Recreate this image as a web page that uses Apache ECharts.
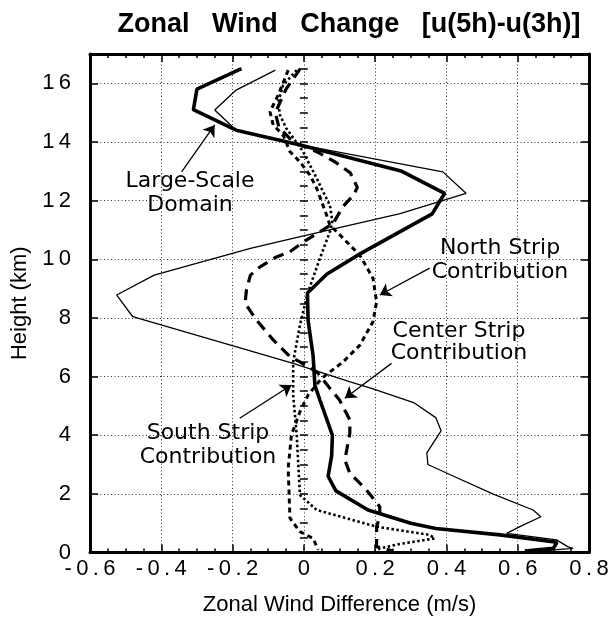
<!DOCTYPE html>
<html><head><meta charset="utf-8">
<script src="https://cdn.jsdelivr.net/npm/echarts@6/dist/echarts.min.js"></script>
<style>html,body{margin:0;padding:0;background:#fff}#c{width:608px;height:617px}</style>
</head><body><div id="c"></div>
<script>
// ---- data (x = zonal wind difference m/s, y = height km) ----
const largeH = [16.5, 15.8, 15.1, 14.4, 13.9, 13.0, 12.25, 11.55, 10.2, 9.5, 8.85, 7.9, 6.7, 5.7, 5.2, 4.0, 3.3, 2.6, 2.1, 1.45, 1.0, 0.82, 0.6, 0.35, 0.14, 0.05];
const largeU = [-0.175, -0.30, -0.31, -0.19, -0.01, 0.275, 0.395, 0.36, 0.16, 0.065, 0.01, 0.012, 0.026, 0.031, 0.045, 0.08, 0.078, 0.068, 0.09, 0.18, 0.30, 0.37, 0.55, 0.71, 0.70, 0.62];

const thinH = [16.45, 15.77, 15.09, 14.4, 13.9, 12.98, 12.25, 11.56, 10.77, 10.37, 9.46, 8.78, 8.04, 6.45, 5.82, 5.6, 5.1, 4.6, 4.15, 3.4, 3.0, 2.6, 2.0, 1.45, 1.22, 0.88, 0.65, 0.43, 0.2, 0.14, 0.05];
const thinU = [-0.08, -0.19, -0.25, -0.19, -0.01, 0.39, 0.455, 0.27, -0.01, -0.15, -0.42, -0.525, -0.48, -0.03, 0.13, 0.19, 0.31, 0.37, 0.385, 0.345, 0.348, 0.42, 0.53, 0.643, 0.665, 0.606, 0.569, 0.709, 0.74, 0.755, 0.66];

const centerH = [16.5, 15.8, 15.0, 14.5, 14.0, 13.67, 13.3, 12.95, 12.45, 12.2, 11.8, 11.22, 10.9, 10.6, 10.25, 10.08, 9.74, 9.46, 8.95, 8.5, 7.93, 7.25, 6.68, 6.5, 6.16, 5.6, 5.2, 4.52, 4.07, 3.15, 2.71, 2.13, 1.56, 1.22, 0.88, 0.2, 0.05];
const centerU = [-0.01, -0.05, -0.08, -0.07, -0.03, 0.036, 0.09, 0.13, 0.15, 0.14, 0.11, 0.082, 0.04, 0.0, -0.04, -0.077, -0.123, -0.15, -0.161, -0.165, -0.133, -0.086, -0.039, -0.011, 0.036, 0.073, 0.10, 0.129, 0.129, 0.115, 0.129, 0.176, 0.213, 0.213, 0.204, 0.204, 0.25];

const northH = [16.45, 15.6, 15.03, 14.58, 14.23, 13.67, 13.32, 12.87, 12.42, 11.96, 11.5, 11.17, 10.83, 10.14, 9.35, 8.55, 7.87, 7.07, 6.5, 5.94, 5.37, 4.8, 4.0, 2.87, 1.17, 0.71, 0.48, 0.09];
const northU = [-0.044, -0.072, -0.095, -0.086, -0.058, -0.039, -0.011, 0.017, 0.036, 0.05, 0.064, 0.073, 0.101, 0.157, 0.194, 0.204, 0.194, 0.157, 0.11, 0.05, 0.012, -0.011, -0.035, -0.044, -0.039, -0.011, 0.026, 0.04];

const southH = [16.45, 15.94, 15.37, 14.92, 14.46, 14.06, 13.67, 13.21, 12.76, 12.3, 11.85, 11.3, 11.0, 10.03, 8.89, 7.76, 6.5, 5.37, 4.0, 1.96, 1.45, 0.88, 0.6, 0.48, 0.29, 0.14, 0.05];
const southU = [-0.02, -0.058, -0.072, -0.067, -0.049, -0.025, -0.002, 0.017, 0.036, 0.054, 0.073, 0.08, 0.075, 0.045, 0.012, -0.011, -0.03, -0.03, -0.02, -0.011, 0.036, 0.204, 0.353, 0.367, 0.269, 0.213, 0.20];

// annotation arrows: [fromU, fromH, toU, toH]
const arrowLarge  = [-0.343, 12.98, -0.25, 14.58];
const arrowNorth  = [0.353, 9.70, 0.213, 8.78];
const arrowCenter = [0.246, 6.45, 0.115, 5.26];
const arrowSouth  = [-0.18, 4.58, -0.0345, 5.71];

const titleText = 'Zonal   Wind   Change   [u(5h)-u(3h)]';
const xName = 'Zonal Wind Difference (m/s)';
const yName = 'Height (km)';

function pairs(u, h) { return u.map((v, i) => [v, h[i]]); }
function spaced(v) { return String(v).split('').join('\u2009'); }
function arrowLine(a) { return [{ coord: [a[0], a[1]] }, { coord: [a[2], a[3]] }]; }

const FONT = 'Liberation Sans, Arial, Helvetica, sans-serif';
const ANN = 'DejaVu Sans, Verdana, sans-serif';
const gridStyle = { show: true, lineStyle: { color: '#333', width: 1, type: [1, 2.5] } };

const chart = echarts.init(document.getElementById('c'), null, { renderer: 'canvas' });
chart.setOption({
  backgroundColor: '#fff',
  animation: false,
  grid: { left: 90, right: 19, top: 54, bottom: 64.5, containLabel: false, outerBoundsMode: 'none' },
  xAxis: [
    { type: 'value', position: 'bottom', min: -0.6, max: 0.8, interval: 0.2,
      axisLine: { show: true, onZero: false, lineStyle: { color: '#000', width: 3 } },
      axisTick: { show: true, inside: true, length: 8, lineStyle: { color: '#000', width: 1.5 } },
      minorTick: { show: true, splitNumber: 4, length: 4, lineStyle: { color: '#000', width: 1.5 } },
      axisLabel: { show: true, margin: 5, color: '#000', fontSize: 22, fontFamily: FONT, formatter: v => spaced(v) },
      splitLine: gridStyle,
      name: xName, nameLocation: 'middle', nameGap: 41,
      nameTextStyle: { color: '#000', fontSize: 22, fontFamily: FONT } },
    { type: 'value', position: 'top', min: -0.6, max: 0.8, interval: 0.2,
      axisLine: { show: true, onZero: false, lineStyle: { color: '#000', width: 3 } },
      axisTick: { show: true, inside: true, length: 8, lineStyle: { color: '#000', width: 1.5 } },
      minorTick: { show: true, splitNumber: 4, length: 4, lineStyle: { color: '#000', width: 1.5 } },
      axisLabel: { show: false }, splitLine: { show: false } }
  ],
  yAxis: [
    { type: 'value', position: 'left', min: 0, max: 17, interval: 2,
      axisLine: { show: true, onZero: false, lineStyle: { color: '#000', width: 3 } },
      axisTick: { show: true, inside: true, length: 8, lineStyle: { color: '#000', width: 1.5 } },
      axisLabel: { show: true, margin: 19, color: '#000', fontSize: 22, fontFamily: FONT, showMaxLabel: false,
        formatter: v => (v > 16 ? '' : spaced(v)) },
      splitLine: gridStyle,
      name: yName, nameLocation: 'middle', nameGap: 56,
      nameTextStyle: { color: '#000', fontSize: 22, fontFamily: FONT } },
    { type: 'value', position: 'left', min: 0, max: 17, interval: 0.5,
      axisLine: { show: false }, axisLabel: { show: false }, splitLine: { show: false },
      axisTick: { show: true, inside: true, length: 4, lineStyle: { color: '#000', width: 1.5 } } },
    { type: 'value', position: 'right', min: 0, max: 17, interval: 2,
      axisLine: { show: true, onZero: false, lineStyle: { color: '#000', width: 3 } },
      axisTick: { show: true, inside: true, length: 8, lineStyle: { color: '#000', width: 1.5 } },
      axisLabel: { show: false }, splitLine: { show: false } },
    { type: 'value', position: 'right', min: 0, max: 17, interval: 0.5,
      axisLine: { show: false }, axisLabel: { show: false }, splitLine: { show: false },
      axisTick: { show: true, inside: true, length: 4, lineStyle: { color: '#000', width: 1.5 } } }
  ],
  series: [
    { name: 'thin', type: 'line', data: pairs(thinU, thinH), showSymbol: false, symbol: 'none',
      lineStyle: { color: '#000', width: 1.3 },
      markLine: { silent: true, symbol: ['none', 'arrow'], symbolSize: 11,
        label: { show: false },
        lineStyle: { color: '#000', width: 1.3, type: 'solid' },
        data: [arrowLine(arrowLarge), arrowLine(arrowNorth), arrowLine(arrowCenter), arrowLine(arrowSouth)] } },
    { name: 'South Strip Contribution', type: 'line', data: pairs(southU, southH), showSymbol: false, symbol: 'none',
      lineStyle: { color: '#000', width: 2.6, type: [2.5, 2.5] } },
    { name: 'North Strip Contribution', type: 'line', data: pairs(northU, northH), showSymbol: false, symbol: 'none',
      lineStyle: { color: '#000', width: 3, type: [5, 4] } },
    { name: 'Center Strip Contribution', type: 'line', data: pairs(centerU, centerH), showSymbol: false, symbol: 'none',
      lineStyle: { color: '#000', width: 3.2, type: [11, 7] } },
    { name: 'Large-Scale Domain', type: 'line', data: pairs(largeU, largeH), showSymbol: false, symbol: 'none',
      lineStyle: { color: '#000', width: 3.6 } }
  ],
  graphic: [
    { type: 'text', style: { x: 349, y: 25, text: titleText, align: 'center', verticalAlign: 'middle',
        font: 'bold 27px ' + FONT, fill: '#000' } },
    { type: 'text', style: { x: 190, y: 193, text: 'Large-Scale\nDomain', align: 'center', verticalAlign: 'middle',
        font: '22px ' + ANN, lineHeight: 24, fill: '#000' } },
    { type: 'text', style: { x: 500, y: 260, text: 'North Strip\nContribution', align: 'center', verticalAlign: 'middle',
        font: '22px ' + ANN, lineHeight: 24, fill: '#000' } },
    { type: 'text', style: { x: 459, y: 342, text: 'Center Strip\nContribution', align: 'center', verticalAlign: 'middle',
        font: '22px ' + ANN, lineHeight: 22, fill: '#000' } },
    { type: 'text', style: { x: 208, y: 445, text: 'South Strip\nContribution', align: 'center', verticalAlign: 'middle',
        font: '22px ' + ANN, lineHeight: 24, fill: '#000' } }
  ]
});
</script>
</body></html>
